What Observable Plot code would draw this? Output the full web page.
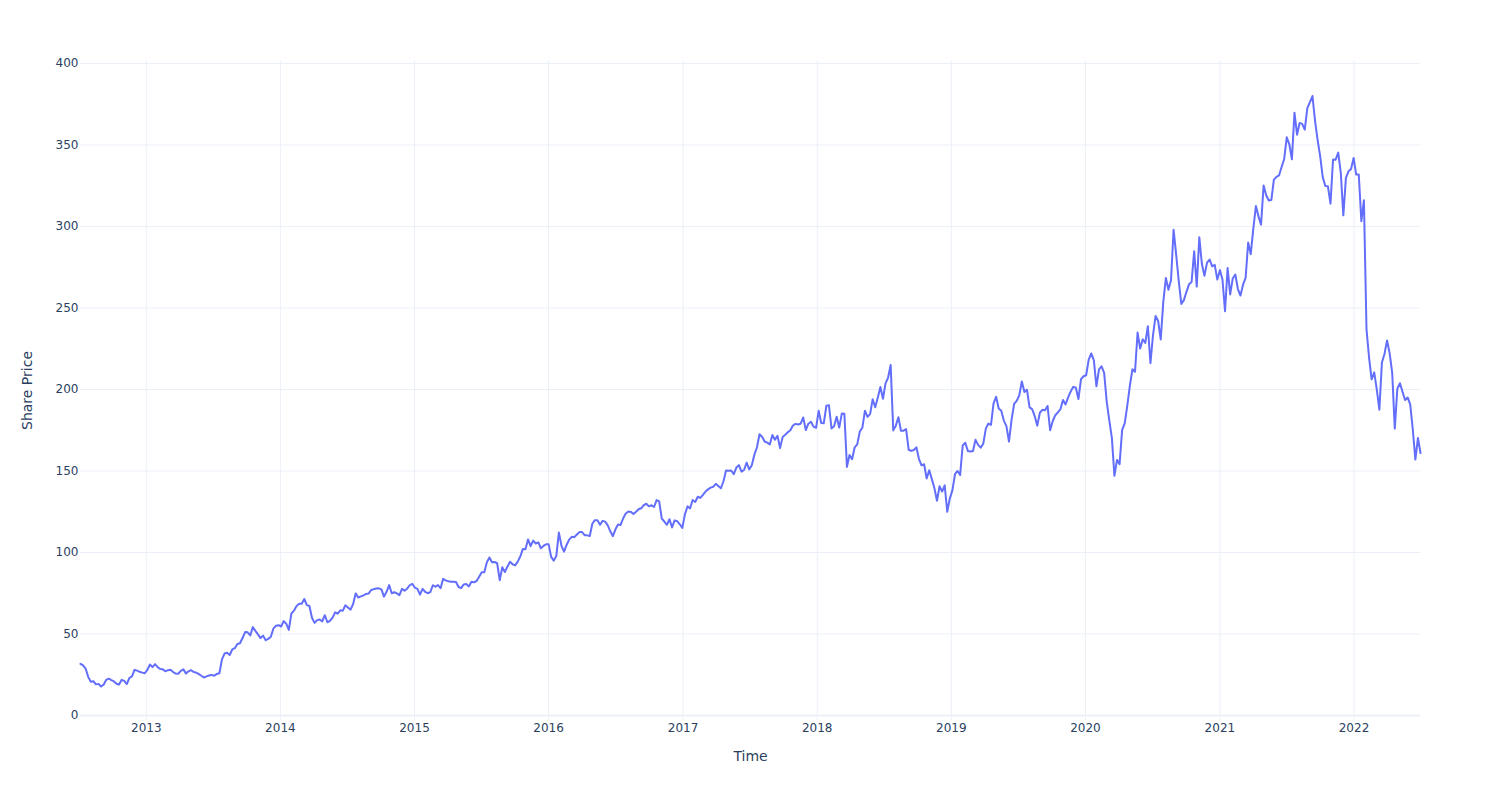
<!DOCTYPE html>
<html><head><meta charset="utf-8">
<script src="https://cdn.jsdelivr.net/npm/d3@7"></script>
<script src="https://cdn.jsdelivr.net/npm/@observablehq/plot@0.6"></script>
<style>body{margin:0;background:#fff}</style>
</head><body><div id="chart"></div>
<script>
// Weekly share prices (one value per week, starting on the first Friday of the series)
const startDate = "2012-07-06";
const price2012 = [31.7,30.7,28.8,23.7,20.7,21.0,19.1,19.4,17.8,18.9,21.9,22.6,21.7,20.9,19.5,19.0,21.9,21.2,19.3,23.0,24.0,28.0,27.5,26.8,26.3,25.9];
const price2013 = [28.0,31.3,29.7,31.5,29.7,28.5,28.3,27.1,27.8,28.0,26.7,25.7,25.6,27.4,28.3,25.7,27.1,27.8,26.7,26.3,25.4,24.4,23.3,24.0,24.5,24.9,24.4,25.5,25.9,34.4,38.0,38.5,37.1,40.5,41.3,43.9,44.3,47.5,51.2,51.0,49.1,54.2,51.9,49.8,47.5,49.0,46.2,47.0,48.3,53.3,55.1,55.4];
const price2014 = [54.6,57.9,56.3,52.5,62.6,64.3,67.1,68.6,68.5,71.5,67.7,67.2,60.0,56.8,58.5,58.9,57.7,61.5,57.2,58.0,60.0,63.3,62.5,64.5,64.3,67.6,66.3,64.9,68.4,74.9,72.4,73.1,73.6,74.6,74.8,77.0,77.5,77.9,78.0,77.4,72.9,75.9,80.0,75.0,75.6,74.9,73.8,77.7,76.5,77.8,79.9,80.8];
const price2015 = [78.4,77.7,74.1,77.7,75.9,75.0,75.7,79.9,79.0,80.0,78.1,83.8,82.9,82.3,82.0,82.0,81.9,78.8,78.1,80.4,80.6,79.2,82.0,81.7,82.5,85.1,87.9,87.9,94.0,96.95,94.0,94.2,93.4,83.0,91.0,88.0,91.3,94.3,92.8,92.1,94.4,97.5,102.2,102.0,108.0,103.9,107.3,105.5,106.2,102.6,104.0,105.0];
const price2016 = [105.0,97.3,95.0,97.9,112.2,104.1,100.5,104.6,107.9,109.6,109.4,111.0,112.5,112.5,110.6,110.5,110.1,117.6,119.8,119.8,117.0,119.4,118.9,116.6,113.0,110.0,114.2,117.2,116.9,121.0,123.9,125.2,124.9,123.6,125.0,126.5,127.1,129.1,129.9,128.3,129.0,127.9,132.1,131.3,120.8,119.0,117.0,120.4,115.4,119.7,119.2,117.3,115.1];
const price2017 = [123.4,128.3,127.0,132.2,131.0,134.2,133.5,135.4,137.4,138.7,139.8,140.3,142.1,140.8,139.4,143.7,150.3,150.2,150.3,148.1,152.1,153.6,149.6,150.6,155.1,151.0,153.5,160.0,164.4,172.5,171.0,168.1,167.4,166.3,172.0,169.2,171.6,164.0,170.9,172.2,173.7,175.0,177.9,178.9,178.5,179.0,182.8,175.1,179.0,180.2,177.2,176.5];
const price2018 = [186.9,179.4,179.3,190.0,190.3,176.1,177.4,183.3,176.6,185.2,185.1,152.5,159.8,157.2,164.5,166.3,174.2,176.6,187.0,183.2,184.9,194.0,189.1,195.1,201.5,194.3,203.7,207.3,215.0,174.9,177.8,183.0,174.7,174.7,175.7,163.0,162.3,162.9,164.5,157.3,153.4,154.1,145.4,150.4,145.0,139.5,131.7,140.6,137.4,141.2,124.95,133.2];
const price2019 = [138.1,148.0,150.0,147.5,165.7,167.3,162.3,161.9,162.3,169.1,166.0,164.3,166.7,176.0,179.1,178.3,191.5,195.5,188.3,187.0,180.9,177.5,168.0,181.3,191.1,193.0,196.4,204.9,198.4,199.8,189.0,187.9,183.7,177.8,185.7,187.5,187.2,189.9,175.0,180.5,184.2,185.9,187.9,193.6,190.8,195.1,198.8,201.6,201.1,194.1,206.3,208.1];
const price2020 = [208.7,218.3,222.1,217.9,201.9,212.3,214.2,210.2,192.5,181.1,170.3,147.0,156.8,154.2,175.2,179.2,190.1,202.3,212.4,210.9,234.9,225.1,230.8,228.6,238.8,216.1,233.4,245.1,242.0,230.7,253.7,268.4,261.2,267.0,298.0,282.7,266.6,252.5,254.8,259.9,264.5,265.9,284.8,263.1,293.4,276.95,269.7,277.8,279.7,275.5,276.4,267.4];
const price2021 = [273.2,267.6,248.0,274.5,258.3,268.1,270.5,261.6,257.6,264.3,268.4,290.1,283.0,298.7,312.5,306.2,301.1,325.1,319.1,315.9,316.2,328.7,330.4,331.3,336.5,341.4,354.7,350.4,341.2,369.8,356.3,363.5,362.9,359.4,372.6,376.3,380.0,364.7,353.0,343.0,330.1,324.8,324.6,314.0,341.1,340.9,345.3,333.1,306.8,329.8,333.8,335.2,342.0];
const price2022 = [331.8,331.9,303.2,316.0,237.1,219.6,206.2,210.5,200.1,187.6,216.5,221.8,230.0,222.3,210.2,176.0,200.5,203.8,198.6,193.5,195.1,190.8,175.6,157.0,170.2,161.0];

const yearTicks = [2013,2014,2015,2016,2017,2018,2019,2020,2021,2022];
const priceTicks = [0,50,100,150,200,250,300,350,400];
const xLabel = "Time";
const yLabel = "Share Price";

const prices = [].concat(price2012,price2013,price2014,price2015,price2016,price2017,price2018,price2019,price2020,price2021,price2022);
const t0 = Date.parse(startDate + "T00:00:00Z");
const data = prices.map((p, i) => ({date: new Date(t0 + i * 7 * 864e5), price: p}));
const yearDates = yearTicks.map(y => new Date(Date.UTC(y, 0, 1)));

const chart = Plot.plot({
  width: 1500, height: 800,
  marginLeft: 80, marginRight: 80, marginTop: 60, marginBottom: 80,
  style: {fontFamily: "DejaVu Sans", fontSize: "12px", color: "#2a3f5f", background: "#fff"},
  x: {type: "utc", domain: d3.extent(data, d => d.date)},
  y: {domain: [-3.07, 401.8]},
  marks: [
    Plot.gridX(yearDates, {stroke: "#EBF0F8", strokeOpacity: 1}),
    Plot.gridY(priceTicks.filter(v => v !== 0), {stroke: "#EBF0F8", strokeOpacity: 1}),
    Plot.ruleY([0], {stroke: "#EBF0F8", strokeWidth: 2}),
    Plot.axisX({ticks: yearDates, tickSize: 0, tickPadding: 3, tickFormat: d3.utcFormat("%Y"), label: null}),
    Plot.axisY({ticks: priceTicks, tickSize: 0, tickPadding: 2, label: null}),
    Plot.lineY(data, {x: "date", y: "price", stroke: "#636efa", strokeWidth: 2}),
    Plot.text([xLabel], {text: d => d, frameAnchor: "bottom", dy: 36, lineAnchor: "middle", textAnchor: "middle", fontSize: 14}),
    Plot.text([yLabel], {text: d => d, frameAnchor: "left", dx: -53, rotate: -90, lineAnchor: "middle", textAnchor: "middle", fontSize: 14})
  ]
});
document.getElementById("chart").appendChild(chart);
</script>
</body></html>
